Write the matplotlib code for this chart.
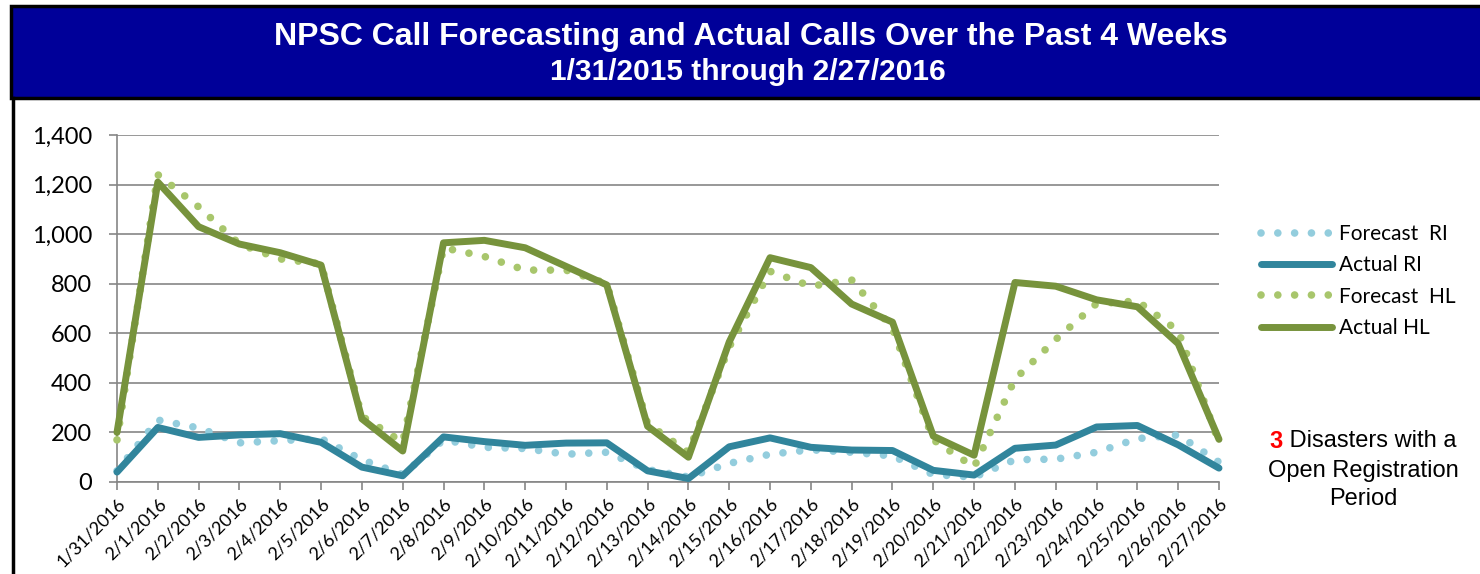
import matplotlib
matplotlib.use("Agg")
from matplotlib import pyplot as plt
from matplotlib.patches import Rectangle
from matplotlib.lines import Line2D

# data
dates = ["1/31/2016"] + [f"2/{d}/2016" for d in range(1, 28)]

forecast_ri = [45, 250, 218, 158, 167, 175, 90, 30, 170, 140, 135, 112, 120, 50,
               20, 75, 112, 130, 120, 105, 30, 20, 90, 92, 120, 175, 190, 80]
actual_ri = [40, 220, 180, 190, 195, 160, 60, 25, 182, 163, 148, 157, 158, 45,
             14, 142, 178, 140, 129, 127, 47, 28, 136, 149, 222, 228, 150, 56]
forecast_hl = [170, 1240, 1110, 960, 900, 880, 265, 160, 945, 910, 855, 855, 800, 235,
               120, 545, 850, 790, 815, 620, 170, 60, 415, 575, 720, 730, 610, 160]
actual_hl = [200, 1210, 1030, 960, 925, 875, 255, 125, 965, 975, 945, 870, 795, 225,
             100, 565, 905, 865, 718, 645, 185, 108, 805, 790, 735, 707, 558, 172]

yticks = [0, 200, 400, 600, 800, 1000, 1200, 1400]

W, H = 1480, 574
fig = plt.figure(figsize=(W / 100, H / 100), dpi=100)

# title band
fig.patches.append(Rectangle((11 / W, 1 - 98 / H), (W - 9) / W, 92 / H,
                             transform=fig.transFigure, facecolor="#000099",
                             edgecolor="black", linewidth=2.5, zorder=0))
fig.lines.append(Line2D([12.5 / W, 12.5 / W], [0, 1 - 98 / H], transform=fig.transFigure,
                        color="black", linewidth=2.5))
fig.text(751 / W, 1 - 37 / H, "NPSC Call Forecasting and Actual Calls Over the Past 4 Weeks",
         ha="center", va="center", color="white", fontsize=23, fontweight="bold",
         family="Liberation Sans")
fig.text(748 / W, 1 - 72 / H, "1/31/2015 through 2/27/2016",
         ha="center", va="center", color="white", fontsize=21.5, fontweight="bold",
         family="Liberation Sans")

ax = fig.add_axes([117 / W, 1 - 482 / H, (1219 - 117) / W, (482 - 135) / H])
x = list(range(len(dates)))

dot = (0, (0.001, 2.2))
ax.plot(x, forecast_ri, color="#93CDDD", lw=5.5, ls=dot, dash_capstyle="round",
        label="Forecast  RI", clip_on=False, zorder=3)
ax.plot(x, actual_ri, color="#31859C", lw=5, solid_capstyle="round", solid_joinstyle="round",
        label="Actual RI", clip_on=False, zorder=4)
ax.plot(x, forecast_hl, color="#A8C66C", lw=5.5, ls=dot, dash_capstyle="round",
        label="Forecast  HL", clip_on=False, zorder=5)
ax.plot(x, actual_hl, color="#77933C", lw=5, solid_capstyle="round", solid_joinstyle="round",
        label="Actual HL", clip_on=False, zorder=6)

ax.set_xlim(0, len(dates) - 1)
ax.set_ylim(0, 1400)
ax.set_yticks(yticks)
ax.set_yticklabels([f"{v:,}" for v in yticks], family="Lato", fontsize=17)
ax.set_xticks(x)
ax.set_xticklabels(dates, rotation=45, ha="right", va="top", rotation_mode="anchor",
                   family="Lato", fontsize=13)
ax.grid(axis="y", color="#868686", lw=1.2)
ax.set_axisbelow(True)
for s in ["top", "right"]:
    ax.spines[s].set_visible(False)
for s in ["left", "bottom"]:
    ax.spines[s].set_color("#868686")
    ax.spines[s].set_linewidth(1.2)
ax.tick_params(axis="y", length=6, width=1.2, color="#868686", pad=12)
ax.tick_params(axis="x", length=6, width=1.2, color="#868686", pad=4)

leg = ax.legend(loc="center left", bbox_to_anchor=(1242 / W, 1 - 281 / H),
                bbox_transform=fig.transFigure, frameon=False, handlelength=3.4,
                handletextpad=0.35, labelspacing=0.55, prop={"family": "Lato", "size": 15})

# note at the lower right
fig.canvas.draw()
r = fig.canvas.get_renderer()
cx, y1 = 1363, 441
t3 = fig.text(0, 0, "3", color="red", fontsize=17, fontweight="bold", family="Liberation Sans")
tr = fig.text(0, 0, " Disasters with a", color="black", fontsize=17, family="Liberation Sans")
w3 = t3.get_window_extent(r).width
wr = tr.get_window_extent(r).width
x0 = cx - (w3 + wr) / 2
t3.set_position((x0 / W, 1 - y1 / H))
tr.set_position(((x0 + w3) / W, 1 - y1 / H))
t3.set_va("center")
tr.set_va("center")
fig.text(cx / W, 1 - 485 / H, "Open Registration\nPeriod", ha="center", va="center",
         fontsize=17, family="Liberation Sans", linespacing=1.3)

fig.savefig("out.png", dpi=100)
